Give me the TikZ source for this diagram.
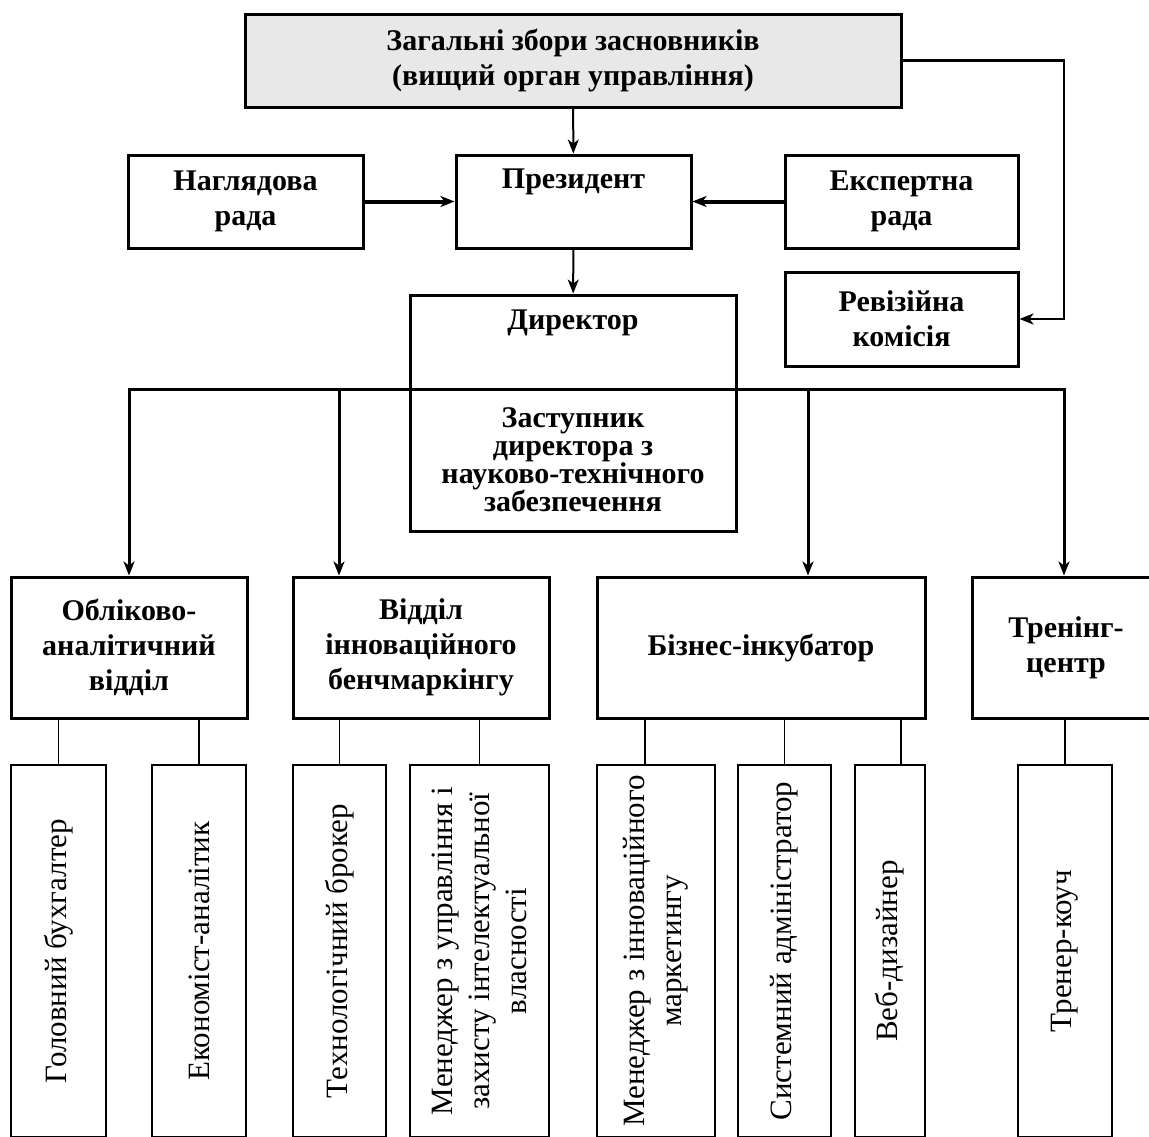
\documentclass[tikz,border=0pt]{standalone}
\usepackage{fontspec}
\setmainfont{Liberation Serif}
\usetikzlibrary{arrows.meta}
\definecolor{boardgray}{HTML}{E8E8E8}

\begin{document}
\begin{tikzpicture}[x=1pt,y=-1pt,
  main/.style={draw,line width=3pt,align=center,inner sep=0pt,
    font=\bfseries\fontsize{30}{35}\selectfont},
  dept/.style={main,minimum height=141pt},
  post/.style={draw,line width=1.5pt,rotate=90,align=center,inner sep=0pt,
    minimum width=372pt,font=\fontsize{31}{37}\selectfont},
  link/.style={line width=1.5pt},
  bus/.style={line width=3pt,line cap=rect},
  arr/.style={-{Stealth[length=14pt,width=11pt,inset=4pt]}},
  arrsmall/.style={line width=2pt,-{Stealth[length=14pt,width=11pt,inset=4pt]}}
]
\useasboundingbox (0,0) rectangle (1149,1136);
\clip (0,0) rectangle (1149,1136);

% upper level
\node[main,fill=boardgray,minimum width=656pt,minimum height=93pt] (zbory) at (573,60.5)
  {Загальні збори засновників\\(вищий орган управління)};
\node[main,minimum width=235pt,minimum height=93pt] (nahl) at (245.5,201.5) {Наглядова\\рада};
\node[main,minimum width=235pt,minimum height=93pt] (prez) at (573.5,201.5) {Президент\\\strut};
\node[main,minimum width=233pt,minimum height=93pt] (eksp) at (901.5,201.5) {Експертна\\рада};
\node[main,minimum width=233pt,minimum height=94pt] (reviz) at (901.5,319) {Ревізійна\\комісія};
\node[main,minimum width=326pt,minimum height=94pt] (dyr) at (573,342) {Директор\\\strut};
\node[main,minimum width=326pt,minimum height=142pt,font=\bfseries\fontsize{30}{28}\selectfont] (zast) at (573,460)
  {Заступник\\директора з\\науково-технічного\\забезпечення};

% departments
\node[dept,minimum width=236pt] (obl) at (129,647.5) {Обліково-\\аналітичний\\відділ};
\node[dept,minimum width=256pt] (vid) at (421,647.5) {Відділ\\інноваційного\\бенчмаркінгу};
\node[dept,minimum width=328pt] (biz) at (761,647.5) {Бізнес-інкубатор};
\node[dept,minimum width=188pt] (tren) at (1066,647.5) {Тренінг-\\центр};

% staff
\node[post,minimum height=95pt] (gol) at (58.5,951) {Головний бухгалтер};
\node[post,minimum height=94pt] (ekon) at (199,951) {Економіст-аналітик};
\node[post,minimum height=93pt] (tekh) at (339.5,951) {Технологічний брокер};
\node[post,minimum height=139pt] (menu) at (479.5,951) {Менеджер з управління і\\захисту інтелектуальної\\власності};
\node[post,minimum height=118pt] (menm) at (656,951) {Менеджер з інноваційного\\маркетингу};
\node[post,minimum height=93pt] (sys) at (784.5,951) {Системний адміністратор};
\node[post,minimum height=70pt] (veb) at (890,951) {Веб-дизайнер};
\node[post,minimum height=94pt] (coach) at (1065,951) {Тренер-коуч};

\coordinate (d1) at (129,389);
\coordinate (d2) at (339,389);
\coordinate (d3) at (808,389);
\coordinate (d4) at (1064,389);

\draw[arrsmall] (zbory) -- (prez);
\draw[arrsmall] (prez) -- (dyr);
\draw[line width=4pt,arr] (nahl) -- (prez);
\draw[line width=4pt,arr] (eksp) -- (prez);
\draw[line width=2.5pt,arr] (zbory.east) -- (zbory.east -| d4) |- (reviz.east);

\draw[bus] (d1) -- (d4);
\draw[bus,arr] (d1) -- (d1 |- obl.north);
\draw[bus,arr] (d2) -- (d2 |- vid.north);
\draw[bus,arr] (d3) -- (d3 |- biz.north);
\draw[bus,arr] (d4) -- (d4 |- tren.north);

\draw[link] (gol.east |- obl.south) -- (gol.east);
\draw[link] (ekon.east |- obl.south) -- (ekon.east);
\draw[link] (tekh.east |- vid.south) -- (tekh.east);
\draw[link] (menu.east |- vid.south) -- (menu.east);
\draw[link] ([xshift=-11pt]menm.east |- biz.south) -- ([xshift=-11pt]menm.east);
\draw[link] (sys.east |- biz.south) -- (sys.east);
\draw[link] ([xshift=11pt]veb.east |- biz.south) -- ([xshift=11pt]veb.east);
\draw[link] (coach.east |- tren.south) -- (coach.east);

\end{tikzpicture}
\end{document}
